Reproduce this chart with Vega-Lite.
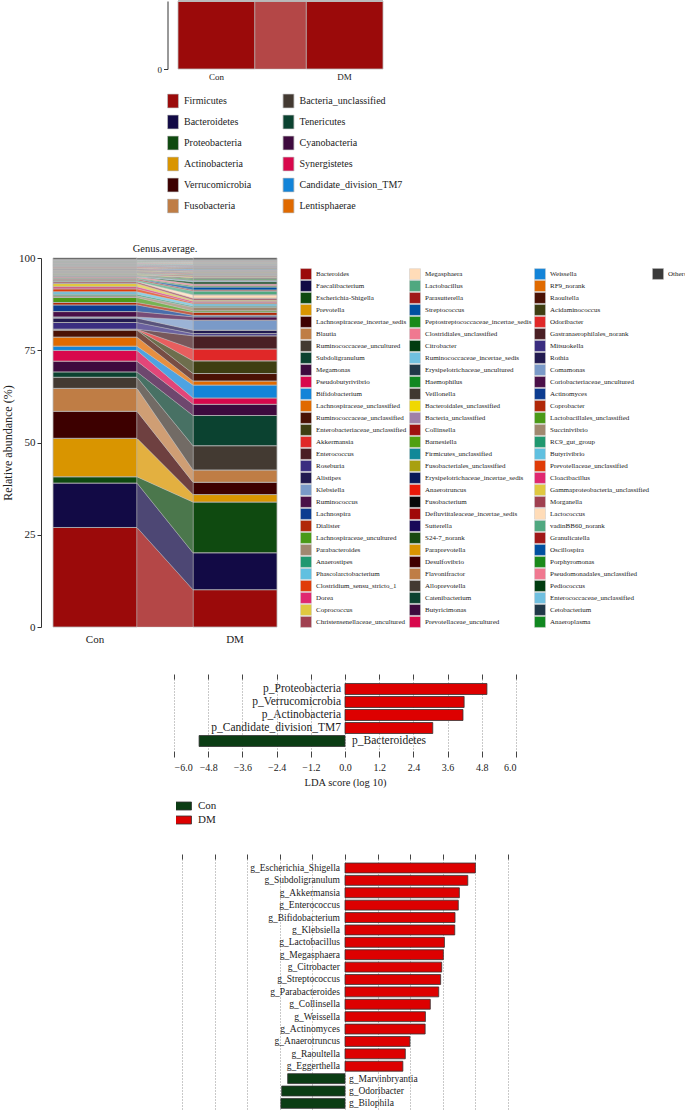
{
"$schema": "https://vega.github.io/schema/vega-lite/v6.json",
"padding": {"left": 1, "top": 0, "right": 0, "bottom": 0},
"bounds": "flush",
"spacing": 108,
"resolve": {"scale": {"color": "independent", "fill": "independent"}, "legend": {"color": "independent", "fill": "independent"}},
"config": {
  "view": {"stroke": null},
  "font": "Liberation Serif",
  "axis": {"labelFont": "Liberation Serif", "titleFont": "Liberation Serif", "labelColor": "#222", "titleColor": "#222", "domainColor": "#333", "tickColor": "#333", "titleFontWeight": "normal"},
  "legend": {"labelFont": "Liberation Serif", "labelColor": "#222", "padding": 0},
  "title": {"font": "Liberation Serif", "fontWeight": "normal", "color": "#222"}
},
"datasets": {
  "phylum": [
    {"phylum":"Firmicutes","group":"Con","pct":52},{"phylum":"Firmicutes","group":"DM","pct":52},
    {"phylum":"Bacteroidetes","group":"Con","pct":42},{"phylum":"Bacteroidetes","group":"DM","pct":18},
    {"phylum":"Proteobacteria","group":"Con","pct":3},{"phylum":"Proteobacteria","group":"DM","pct":22},
    {"phylum":"Actinobacteria","group":"Con","pct":1.8},{"phylum":"Actinobacteria","group":"DM","pct":4.5},
    {"phylum":"Verrucomicrobia","group":"Con","pct":0.2},{"phylum":"Verrucomicrobia","group":"DM","pct":3.2},
    {"phylum":"Fusobacteria","group":"Con","pct":0.3},{"phylum":"Fusobacteria","group":"DM","pct":0.3},
    {"phylum":"Bacteria_unclassified","group":"Con","pct":0.2},{"phylum":"Bacteria_unclassified","group":"DM","pct":0.2},
    {"phylum":"Tenericutes","group":"Con","pct":0.2},{"phylum":"Tenericutes","group":"DM","pct":0.1},
    {"phylum":"Cyanobacteria","group":"Con","pct":0.1},{"phylum":"Cyanobacteria","group":"DM","pct":0.1},
    {"phylum":"Synergistetes","group":"Con","pct":0.1},{"phylum":"Synergistetes","group":"DM","pct":0.1},
    {"phylum":"Candidate_division_TM7","group":"Con","pct":0.05},{"phylum":"Candidate_division_TM7","group":"DM","pct":0.1},
    {"phylum":"Lentisphaerae","group":"Con","pct":0.05},{"phylum":"Lentisphaerae","group":"DM","pct":0.05}
  ],
  "genus": [
    {"genus":"Bacteroides","group":"Con","pct":26.9},{"genus":"Bacteroides","group":"DM","pct":10.0},
    {"genus":"Faecalibacterium","group":"Con","pct":12.0},{"genus":"Faecalibacterium","group":"DM","pct":9.9},
    {"genus":"Escherichia-Shigella","group":"Con","pct":1.7},{"genus":"Escherichia-Shigella","group":"DM","pct":13.6},
    {"genus":"Prevotella","group":"Con","pct":10.4},{"genus":"Prevotella","group":"DM","pct":2.0},
    {"genus":"Lachnospiraceae_incertae_sedis","group":"Con","pct":7.3},{"genus":"Lachnospiraceae_incertae_sedis","group":"DM","pct":3.3},
    {"genus":"Blautia","group":"Con","pct":6.2},{"genus":"Blautia","group":"DM","pct":3.3},
    {"genus":"Ruminococcaceae_uncultured","group":"Con","pct":3.0},{"genus":"Ruminococcaceae_uncultured","group":"DM","pct":6.5},
    {"genus":"Subdoligranulum","group":"Con","pct":1.45},{"genus":"Subdoligranulum","group":"DM","pct":8.1},
    {"genus":"Megamonas","group":"Con","pct":2.9},{"genus":"Megamonas","group":"DM","pct":3.0},
    {"genus":"Pseudobutyrivibrio","group":"Con","pct":2.9},{"genus":"Pseudobutyrivibrio","group":"DM","pct":1.7},
    {"genus":"Bifidobacterium","group":"Con","pct":1.15},{"genus":"Bifidobacterium","group":"DM","pct":3.45},
    {"genus":"Lachnospiraceae_unclassified","group":"Con","pct":2.45},{"genus":"Lachnospiraceae_unclassified","group":"DM","pct":1.1},
    {"genus":"Ruminococcaceae_unclassified","group":"Con","pct":1.9},{"genus":"Ruminococcaceae_unclassified","group":"DM","pct":2.0},
    {"genus":"Enterobacteriaceae_unclassified","group":"Con","pct":0.1},{"genus":"Enterobacteriaceae_unclassified","group":"DM","pct":3.4},
    {"genus":"Akkermansia","group":"Con","pct":0.1},{"genus":"Akkermansia","group":"DM","pct":3.2},
    {"genus":"Enterococcus","group":"Con","pct":0.05},{"genus":"Enterococcus","group":"DM","pct":3.5},
    {"genus":"Roseburia","group":"Con","pct":1.8},{"genus":"Roseburia","group":"DM","pct":0.6},
    {"genus":"Alistipes","group":"Con","pct":1.2},{"genus":"Alistipes","group":"DM","pct":0.9},
    {"genus":"Klebsiella","group":"Con","pct":0.3},{"genus":"Klebsiella","group":"DM","pct":2.7},
    {"genus":"Ruminococcus","group":"Con","pct":1.45},{"genus":"Ruminococcus","group":"DM","pct":0.9},
    {"genus":"Lachnospira","group":"Con","pct":1.8},{"genus":"Lachnospira","group":"DM","pct":0.4},
    {"genus":"Dialister","group":"Con","pct":0.65},{"genus":"Dialister","group":"DM","pct":0.8},
    {"genus":"Lachnospiraceae_uncultured","group":"Con","pct":1.35},{"genus":"Lachnospiraceae_uncultured","group":"DM","pct":0.4},
    {"genus":"Parabacteroides","group":"Con","pct":0.45},{"genus":"Parabacteroides","group":"DM","pct":1.0},
    {"genus":"Anaerostipes","group":"Con","pct":0.45},{"genus":"Anaerostipes","group":"DM","pct":0.3},
    {"genus":"Phascolarctobacterium","group":"Con","pct":0.65},{"genus":"Phascolarctobacterium","group":"DM","pct":0.6},
    {"genus":"Clostridium_sensu_stricto_1","group":"Con","pct":0.8},{"genus":"Clostridium_sensu_stricto_1","group":"DM","pct":0.3},
    {"genus":"Dorea","group":"Con","pct":0.55},{"genus":"Dorea","group":"DM","pct":0.4},
    {"genus":"Coprococcus","group":"Con","pct":0.9},{"genus":"Coprococcus","group":"DM","pct":0.3},
    {"genus":"Christensenellaceae_uncultured","group":"Con","pct":0.45},{"genus":"Christensenellaceae_uncultured","group":"DM","pct":0.5},
    {"genus":"Megasphaera","group":"Con","pct":0.05},{"genus":"Megasphaera","group":"DM","pct":0.9},
    {"genus":"Lactobacillus","group":"Con","pct":0.4},{"genus":"Lactobacillus","group":"DM","pct":1.0},
    {"genus":"Parasutterella","group":"Con","pct":0.3},{"genus":"Parasutterella","group":"DM","pct":0.3},
    {"genus":"Streptococcus","group":"Con","pct":0.05},{"genus":"Streptococcus","group":"DM","pct":0.8},
    {"genus":"Peptostreptococcaceae_incertae_sedis","group":"Con","pct":0.2},{"genus":"Peptostreptococcaceae_incertae_sedis","group":"DM","pct":0.3},
    {"genus":"Clostridiales_unclassified","group":"Con","pct":0.35},{"genus":"Clostridiales_unclassified","group":"DM","pct":0.5},
    {"genus":"Citrobacter","group":"Con","pct":0.02},{"genus":"Citrobacter","group":"DM","pct":0.6},
    {"genus":"Ruminococcaceae_incertae_sedis","group":"Con","pct":0.15},{"genus":"Ruminococcaceae_incertae_sedis","group":"DM","pct":0.3},
    {"genus":"Erysipelotrichaceae_uncultured","group":"Con","pct":0.1},{"genus":"Erysipelotrichaceae_uncultured","group":"DM","pct":0.2},
    {"genus":"Haemophilus","group":"Con","pct":0.1},{"genus":"Haemophilus","group":"DM","pct":0.3},
    {"genus":"Veillonella","group":"Con","pct":0.1},{"genus":"Veillonella","group":"DM","pct":0.3},
    {"genus":"Bacteroidales_unclassified","group":"Con","pct":0.1},{"genus":"Bacteroidales_unclassified","group":"DM","pct":0.15},
    {"genus":"Bacteria_unclassified","group":"Con","pct":0.1},{"genus":"Bacteria_unclassified","group":"DM","pct":0.15},
    {"genus":"Collinsella","group":"Con","pct":0.05},{"genus":"Collinsella","group":"DM","pct":0.3},
    {"genus":"Barnesiella","group":"Con","pct":0.1},{"genus":"Barnesiella","group":"DM","pct":0.1},
    {"genus":"Firmicutes_unclassified","group":"Con","pct":0.1},{"genus":"Firmicutes_unclassified","group":"DM","pct":0.1},
    {"genus":"Fusobacteriales_unclassified","group":"Con","pct":0.1},{"genus":"Fusobacteriales_unclassified","group":"DM","pct":0.08},
    {"genus":"Erysipelotrichaceae_incertae_sedis","group":"Con","pct":0.1},{"genus":"Erysipelotrichaceae_incertae_sedis","group":"DM","pct":0.08},
    {"genus":"Anaerotruncus","group":"Con","pct":0.05},{"genus":"Anaerotruncus","group":"DM","pct":0.2},
    {"genus":"Fusobacterium","group":"Con","pct":0.1},{"genus":"Fusobacterium","group":"DM","pct":0.08},
    {"genus":"Defluviitaleaceae_incertae_sedis","group":"Con","pct":0.1},{"genus":"Defluviitaleaceae_incertae_sedis","group":"DM","pct":0.08},
    {"genus":"Sutterella","group":"Con","pct":0.1},{"genus":"Sutterella","group":"DM","pct":0.08},
    {"genus":"S24-7_norank","group":"Con","pct":0.1},{"genus":"S24-7_norank","group":"DM","pct":0.08},
    {"genus":"Paraprevotella","group":"Con","pct":0.1},{"genus":"Paraprevotella","group":"DM","pct":0.08},
    {"genus":"Desulfovibrio","group":"Con","pct":0.1},{"genus":"Desulfovibrio","group":"DM","pct":0.08},
    {"genus":"Flavonifractor","group":"Con","pct":0.1},{"genus":"Flavonifractor","group":"DM","pct":0.08},
    {"genus":"Alloprevotella","group":"Con","pct":0.1},{"genus":"Alloprevotella","group":"DM","pct":0.08},
    {"genus":"Catenibacterium","group":"Con","pct":0.1},{"genus":"Catenibacterium","group":"DM","pct":0.08},
    {"genus":"Butyricimonas","group":"Con","pct":0.1},{"genus":"Butyricimonas","group":"DM","pct":0.08},
    {"genus":"Prevotellaceae_uncultured","group":"Con","pct":0.1},{"genus":"Prevotellaceae_uncultured","group":"DM","pct":0.08},
    {"genus":"Weissella","group":"Con","pct":0.05},{"genus":"Weissella","group":"DM","pct":0.25},
    {"genus":"RF9_norank","group":"Con","pct":0.1},{"genus":"RF9_norank","group":"DM","pct":0.1},
    {"genus":"Raoultella","group":"Con","pct":0.02},{"genus":"Raoultella","group":"DM","pct":0.15},
    {"genus":"Acidaminococcus","group":"Con","pct":0.1},{"genus":"Acidaminococcus","group":"DM","pct":0.1},
    {"genus":"Odoribacter","group":"Con","pct":0.15},{"genus":"Odoribacter","group":"DM","pct":0.05},
    {"genus":"Gastranaerophilales_norank","group":"Con","pct":0.1},{"genus":"Gastranaerophilales_norank","group":"DM","pct":0.1},
    {"genus":"Mitsuokella","group":"Con","pct":0.1},{"genus":"Mitsuokella","group":"DM","pct":0.1},
    {"genus":"Rothia","group":"Con","pct":0.08},{"genus":"Rothia","group":"DM","pct":0.1},
    {"genus":"Comamonas","group":"Con","pct":0.08},{"genus":"Comamonas","group":"DM","pct":0.08},
    {"genus":"Coriobacteriaceae_uncultured","group":"Con","pct":0.08},{"genus":"Coriobacteriaceae_uncultured","group":"DM","pct":0.08},
    {"genus":"Actinomyces","group":"Con","pct":0.03},{"genus":"Actinomyces","group":"DM","pct":0.15},
    {"genus":"Coprobacter","group":"Con","pct":0.08},{"genus":"Coprobacter","group":"DM","pct":0.08},
    {"genus":"Lactobacillales_unclassified","group":"Con","pct":0.08},{"genus":"Lactobacillales_unclassified","group":"DM","pct":0.08},
    {"genus":"Succinivibrio","group":"Con","pct":0.08},{"genus":"Succinivibrio","group":"DM","pct":0.08},
    {"genus":"RC9_gut_group","group":"Con","pct":0.08},{"genus":"RC9_gut_group","group":"DM","pct":0.08},
    {"genus":"Butyrivibrio","group":"Con","pct":0.08},{"genus":"Butyrivibrio","group":"DM","pct":0.08},
    {"genus":"Prevotellaceae_unclassified","group":"Con","pct":0.08},{"genus":"Prevotellaceae_unclassified","group":"DM","pct":0.08},
    {"genus":"Cloacibacillus","group":"Con","pct":0.08},{"genus":"Cloacibacillus","group":"DM","pct":0.08},
    {"genus":"Gammaproteobacteria_unclassified","group":"Con","pct":0.08},{"genus":"Gammaproteobacteria_unclassified","group":"DM","pct":0.08},
    {"genus":"Morganella","group":"Con","pct":0.08},{"genus":"Morganella","group":"DM","pct":0.08},
    {"genus":"Lactococcus","group":"Con","pct":0.08},{"genus":"Lactococcus","group":"DM","pct":0.08},
    {"genus":"vadinBB60_norank","group":"Con","pct":0.08},{"genus":"vadinBB60_norank","group":"DM","pct":0.08},
    {"genus":"Granulicatella","group":"Con","pct":0.08},{"genus":"Granulicatella","group":"DM","pct":0.08},
    {"genus":"Oscillospira","group":"Con","pct":0.08},{"genus":"Oscillospira","group":"DM","pct":0.08},
    {"genus":"Porphyromonas","group":"Con","pct":0.08},{"genus":"Porphyromonas","group":"DM","pct":0.08},
    {"genus":"Pseudomonadales_unclassified","group":"Con","pct":0.08},{"genus":"Pseudomonadales_unclassified","group":"DM","pct":0.08},
    {"genus":"Pediococcus","group":"Con","pct":0.08},{"genus":"Pediococcus","group":"DM","pct":0.08},
    {"genus":"Enterococcaceae_unclassified","group":"Con","pct":0.08},{"genus":"Enterococcaceae_unclassified","group":"DM","pct":0.08},
    {"genus":"Cetobacterium","group":"Con","pct":0.08},{"genus":"Cetobacterium","group":"DM","pct":0.08},
    {"genus":"Anaeroplasma","group":"Con","pct":0.08},{"genus":"Anaeroplasma","group":"DM","pct":0.08},
    {"genus":"Others","group":"Con","pct":0.4},{"genus":"Others","group":"DM","pct":0.45}
  ],
  "ldaP": [
    {"taxon":"p_Proteobacteria","class":"DM","lda":4.98},
    {"taxon":"p_Verrucomicrobia","class":"DM","lda":4.18},
    {"taxon":"p_Actinobacteria","class":"DM","lda":4.14},
    {"taxon":"p_Candidate_division_TM7","class":"DM","lda":3.08},
    {"taxon":"p_Bacteroidetes","class":"Con","lda":-5.12}
  ],
  "ldaG": [
    {"taxon":"g_Escherichia_Shigella","class":"DM","lda":4.80},
    {"taxon":"g_Subdoligranulum","class":"DM","lda":4.52},
    {"taxon":"g_Akkermansia","class":"DM","lda":4.21},
    {"taxon":"g_Enterococcus","class":"DM","lda":4.17},
    {"taxon":"g_Bifidobacterium","class":"DM","lda":4.05},
    {"taxon":"g_Klebsiella","class":"DM","lda":4.04},
    {"taxon":"g_Lactobacillus","class":"DM","lda":3.66},
    {"taxon":"g_Megasphaera","class":"DM","lda":3.62},
    {"taxon":"g_Citrobacter","class":"DM","lda":3.56},
    {"taxon":"g_Streptococcus","class":"DM","lda":3.52},
    {"taxon":"g_Parabacteroides","class":"DM","lda":3.45},
    {"taxon":"g_Collinsella","class":"DM","lda":3.14},
    {"taxon":"g_Weissella","class":"DM","lda":2.96},
    {"taxon":"g_Actinomyces","class":"DM","lda":2.95},
    {"taxon":"g_Anaerotruncus","class":"DM","lda":2.39},
    {"taxon":"g_Raoultella","class":"DM","lda":2.22},
    {"taxon":"g_Eggerthella","class":"DM","lda":2.13},
    {"taxon":"g_Marvinbryantia","class":"Con","lda":-2.11},
    {"taxon":"g_Odoribacter","class":"Con","lda":-2.33},
    {"taxon":"g_Bilophila","class":"Con","lda":-2.36}
  ]
},
"vconcat": [
  {
    "width": 360, "height": 68,
    "data": {"name": "phylum"},
    "transform": [{"window": [{"op": "row_number", "as": "rank"}], "groupby": ["group"]}],
    "layer": [
      {
        "mark": {"type": "bar", "stroke": "#bbbbbb", "strokeWidth": 0.8},
        "encoding": {
          "x": {"field": "group", "type": "nominal", "scale": {"type": "band", "range": [137, 342], "paddingInner": 0.4, "paddingOuter": 0},
                "axis": {"title": null, "domain": false, "ticks": false, "labelAngle": 0, "labelFontSize": 9, "labelPadding": 3}},
          "y": {"field": "pct", "type": "quantitative", "stack": "normalize", "scale": {"domain": [0, 0.2], "clamp": true, "nice": false},
                "axis": {"values": [0], "labelExpr": "format(datum.value*100, 'd')", "title": null, "offset": -126.5, "tickSize": 4, "labelFontSize": 9, "labelPadding": 2, "grid": false}},
          "order": {"field": "rank", "type": "quantitative", "sort": "ascending"},
          "color": {"field": "phylum", "type": "nominal",
            "scale": {"domain": ["Firmicutes","Bacteroidetes","Proteobacteria","Actinobacteria","Verrucomicrobia","Fusobacteria","Bacteria_unclassified","Tenericutes","Cyanobacteria","Synergistetes","Candidate_division_TM7","Lentisphaerae"],
                      "range": ["#9b0a0a","#120a45","#0f4a10","#d99500","#3d0000","#bf7d45","#433a32","#0b4230","#3e0a3e","#d8084c","#1384d8","#e06a00"]},
            "legend": {"title": null, "orient": "none", "legendX": 124.5, "legendY": 92.5, "columns": 2, "columnPadding": 29.5, "rowPadding": 6, "clipHeight": 15,
                       "symbolType": "M-0.78,-1H0.78V1H-0.78Z", "symbolSize": 196, "symbolStrokeColor": "#cccccc", "symbolStrokeWidth": 0.8, "symbolOpacity": 1,
                       "labelFontSize": 10, "labelOffset": 3.5,
                       "values": ["Firmicutes","Bacteroidetes","Proteobacteria","Actinobacteria","Verrucomicrobia","Fusobacteria","Bacteria_unclassified","Tenericutes","Cyanobacteria","Synergistetes","Candidate_division_TM7","Lentisphaerae"]}}
        }
      },
      {
        "mark": {"type": "area", "fillOpacity": 0.75, "stroke": "#bbbbbb", "strokeWidth": 0.5},
        "encoding": {
          "x": {"field": "group", "type": "nominal", "scale": {"type": "point", "range": [214, 265], "padding": 0}, "axis": null},
          "y": {"field": "pct", "type": "quantitative", "stack": "normalize"},
          "order": {"field": "rank", "type": "quantitative", "sort": "ascending"},
          "color": {"field": "phylum", "type": "nominal"}
        }
      }
    ],
    "resolve": {"scale": {"x": "independent"}}
  },
  {
    "width": 248, "height": 394,
    "title": {"text": "Genus.average.", "fontSize": 10.5, "offset": -77, "anchor": "middle", "frame": "group"},
    "data": {"name": "genus"},
    "transform": [{"window": [{"op": "row_number", "as": "rank"}], "groupby": ["group"]}],
    "layer": [
      {
        "mark": {"type": "bar", "stroke": "#b8b8b8", "strokeWidth": 0.8},
        "encoding": {
          "x": {"field": "group", "type": "nominal", "scale": {"type": "band", "range": [12, 236], "paddingInner": 0.4, "paddingOuter": 0},
                "axis": {"title": null, "domain": false, "ticks": false, "labelAngle": 0, "labelFontSize": 11, "labelPadding": 6, "offset": 56}},
          "y": {"field": "pct", "type": "quantitative", "stack": "normalize", "scale": {"domain": [0, 1], "range": [450, 81], "nice": false},
                "axis": {"values": [0, 0.25, 0.5, 0.75, 1], "labelExpr": "format(datum.value*100, 'd')", "title": "Relative abundance (%)", "titleFontSize": 12, "titlePadding": 4, "tickSize": 4, "labelFontSize": 11, "labelPadding": 2, "grid": false}},
          "order": {"field": "rank", "type": "quantitative", "sort": "ascending"},
          "color": {"field": "genus", "type": "nominal",
            "scale": {
              "domain": ["Bacteroides","Faecalibacterium","Escherichia-Shigella","Prevotella","Lachnospiraceae_incertae_sedis","Blautia","Ruminococcaceae_uncultured","Subdoligranulum","Megamonas","Pseudobutyrivibrio","Bifidobacterium","Lachnospiraceae_unclassified","Ruminococcaceae_unclassified","Enterobacteriaceae_unclassified","Akkermansia","Enterococcus","Roseburia","Alistipes","Klebsiella","Ruminococcus","Lachnospira","Dialister","Lachnospiraceae_uncultured","Parabacteroides","Anaerostipes","Phascolarctobacterium","Clostridium_sensu_stricto_1","Dorea","Coprococcus","Christensenellaceae_uncultured","Megasphaera","Lactobacillus","Parasutterella","Streptococcus","Peptostreptococcaceae_incertae_sedis","Clostridiales_unclassified","Citrobacter","Ruminococcaceae_incertae_sedis","Erysipelotrichaceae_uncultured","Haemophilus","Veillonella","Bacteroidales_unclassified","Bacteria_unclassified","Collinsella","Barnesiella","Firmicutes_unclassified","Fusobacteriales_unclassified","Erysipelotrichaceae_incertae_sedis","Anaerotruncus","Fusobacterium","Defluviitaleaceae_incertae_sedis","Sutterella","S24-7_norank","Paraprevotella","Desulfovibrio","Flavonifractor","Alloprevotella","Catenibacterium","Butyricimonas","Prevotellaceae_uncultured","Weissella","RF9_norank","Raoultella","Acidaminococcus","Odoribacter","Gastranaerophilales_norank","Mitsuokella","Rothia","Comamonas","Coriobacteriaceae_uncultured","Actinomyces","Coprobacter","Lactobacillales_unclassified","Succinivibrio","RC9_gut_group","Butyrivibrio","Prevotellaceae_unclassified","Cloacibacillus","Gammaproteobacteria_unclassified","Morganella","Lactococcus","vadinBB60_norank","Granulicatella","Oscillospira","Porphyromonas","Pseudomonadales_unclassified","Pediococcus","Enterococcaceae_unclassified","Cetobacterium","Anaeroplasma","Others"],
              "range": ["#9b0a0a","#120a45","#0f4a10","#d99500","#3d0000","#bf7d45","#433a32","#0b4230","#3e0a3e","#d8084c","#1384d8","#e06a00","#4a1205","#3e3e12","#e02828","#4a1f24","#3a2d80","#221a50","#7a9ac8","#4a1048","#0c3c90","#b02808","#4a9a18","#a08870","#209870","#60c0e0","#e03c08","#e02870","#e0c840","#a04050",
                        "#ffdcb8","#50a880","#a01818","#0050a0","#1a8a1a","#f07890","#003c10","#70c0e0","#203848","#108820","#403830","#f0d800","#a080a8","#a01010","#50a010","#108898","#a8a010","#081858","#e81808","#080808","#a00808","#180858","#184a10","#d99500","#400000","#bf7d45","#433a32","#0b4230","#3e0a3e","#d8084c",
                        "#1384d8","#e06a00","#4a1205","#3e3e12","#e02828","#4a1f24","#3a2d80","#221a50","#7a9ac8","#4a1048","#0c3c90","#b02808","#4a9a18","#a08870","#209870","#60c0e0","#e03c08","#e02870","#e0c840","#a04050","#ffdcb8","#50a880","#a01818","#0050a0","#1a8a1a","#f07890","#003c10","#70c0e0","#203848","#108820","#3a3a3a"]},
            "legend": {"title": null, "orient": "none", "legendX": 259, "legendY": 91.1, "columns": 3, "columnPadding": 2, "rowPadding": 0, "clipHeight": 11.63, "symbolLimit": 0,
                       "symbolType": "square", "symbolSize": 121, "symbolStrokeColor": "#bbbbbb", "symbolStrokeWidth": 0.5, "symbolOpacity": 1,
                       "labelFontSize": 7, "labelOffset": 4, "labelLimit": 200,
                       "values": ["Bacteroides","Faecalibacterium","Escherichia-Shigella","Prevotella","Lachnospiraceae_incertae_sedis","Blautia","Ruminococcaceae_uncultured","Subdoligranulum","Megamonas","Pseudobutyrivibrio","Bifidobacterium","Lachnospiraceae_unclassified","Ruminococcaceae_unclassified","Enterobacteriaceae_unclassified","Akkermansia","Enterococcus","Roseburia","Alistipes","Klebsiella","Ruminococcus","Lachnospira","Dialister","Lachnospiraceae_uncultured","Parabacteroides","Anaerostipes","Phascolarctobacterium","Clostridium_sensu_stricto_1","Dorea","Coprococcus","Christensenellaceae_uncultured","Megasphaera","Lactobacillus","Parasutterella","Streptococcus","Peptostreptococcaceae_incertae_sedis","Clostridiales_unclassified","Citrobacter","Ruminococcaceae_incertae_sedis","Erysipelotrichaceae_uncultured","Haemophilus","Veillonella","Bacteroidales_unclassified","Bacteria_unclassified","Collinsella","Barnesiella","Firmicutes_unclassified","Fusobacteriales_unclassified","Erysipelotrichaceae_incertae_sedis","Anaerotruncus","Fusobacterium","Defluviitaleaceae_incertae_sedis","Sutterella","S24-7_norank","Paraprevotella","Desulfovibrio","Flavonifractor","Alloprevotella","Catenibacterium","Butyricimonas","Prevotellaceae_uncultured","Weissella","RF9_norank","Raoultella","Acidaminococcus","Odoribacter","Gastranaerophilales_norank","Mitsuokella","Rothia","Comamonas","Coriobacteriaceae_uncultured","Actinomyces","Coprobacter","Lactobacillales_unclassified","Succinivibrio","RC9_gut_group","Butyrivibrio","Prevotellaceae_unclassified","Cloacibacillus","Gammaproteobacteria_unclassified","Morganella","Lactococcus","vadinBB60_norank","Granulicatella","Oscillospira","Porphyromonas","Pseudomonadales_unclassified","Pediococcus","Enterococcaceae_unclassified","Cetobacterium","Anaeroplasma"]}}
        }
      },
      {
        "mark": {"type": "area", "fillOpacity": 0.75, "stroke": "#c8c8c8", "strokeWidth": 0.4},
        "encoding": {
          "x": {"field": "group", "type": "nominal", "scale": {"type": "point", "range": [96, 152], "padding": 0}, "axis": null},
          "y": {"field": "pct", "type": "quantitative", "stack": "normalize"},
          "order": {"field": "rank", "type": "quantitative", "sort": "ascending"},
          "color": {"field": "genus", "type": "nominal"}
        }
      },
      {
        "transform": [{"filter": "datum.genus === 'Others'"}],
        "mark": {"type": "bar", "opacity": 0},
        "encoding": {
          "fill": {"field": "genus", "type": "nominal", "scale": {"domain": ["Others"], "range": ["#3a3a3a"]},
            "legend": {"title": null, "orient": "none", "legendX": 611, "legendY": 91.1, "clipHeight": 11.63, "symbolType": "square", "symbolSize": 121, "symbolStrokeColor": "#bbbbbb", "symbolStrokeWidth": 0.5, "symbolOpacity": 1, "labelFontSize": 7, "labelOffset": 4}}
        }
      }
    ],
    "resolve": {"scale": {"x": "independent"}}
  },
  {
    "width": 480, "height": 72,
    "data": {"name": "ldaP"},
    "layer": [
      {
        "mark": {"type": "bar", "stroke": "#333333", "strokeWidth": 0.8},
        "encoding": {
          "y": {"field": "taxon", "type": "nominal", "scale": {"domain": ["p_Proteobacteria","p_Verrucomicrobia","p_Actinobacteria","p_Candidate_division_TM7","p_Bacteroidetes"], "paddingInner": 0.154, "paddingOuter": 0.346}, "axis": null},
          "x": {"field": "lda", "type": "quantitative", "scale": {"domain": [-6, 6], "range": [133, 475], "nice": false, "zero": false},
                "axis": {"orient": "top", "values": [-6, -4.8, -3.6, -2.4, -1.2, 0, 1.2, 2.4, 3.6, 4.8, 6], "labels": false, "domain": false, "grid": true, "gridDash": [1, 2], "gridColor": "#777777", "gridWidth": 0.8, "tickSize": 5, "tickColor": "#444444", "title": null}},
          "color": {"field": "class", "type": "nominal", "scale": {"domain": ["Con", "DM"], "range": ["#0b3d14", "#dd0000"]},
            "legend": {"title": null, "orient": "none", "legendX": 135, "legendY": 121.5, "clipHeight": 11, "rowPadding": 2, "symbolType": "M-2.5,-1H2.5V1H-2.5Z", "symbolSize": 64, "symbolStrokeColor": "#333333", "symbolStrokeWidth": 0.8, "symbolOpacity": 1, "labelFontSize": 11, "labelOffset": 11}}
        }
      },
      {
        "transform": [{"filter": "datum['class'] === 'DM'"}],
        "mark": {"type": "text", "align": "right", "baseline": "middle", "dx": -4, "fontSize": 11.5, "color": "#222222"},
        "encoding": {
          "y": {"field": "taxon", "type": "nominal", "axis": null},
          "x": {"datum": 0, "axis": {"orient": "bottom", "values": [-6, -4.8, -3.6, -2.4, -1.2, 0, 1.2, 2.4, 3.6, 4.8, 6], "format": ".1f", "grid": false, "domain": false, "tickSize": 6, "tickColor": "#444444", "labelFontSize": 10, "labelPadding": 5, "title": "LDA score (log 10)", "titleFontSize": 10.5, "titlePadding": 5}},
          "text": {"field": "taxon"}
        }
      },
      {
        "transform": [{"filter": "datum['class'] === 'Con'"}],
        "mark": {"type": "text", "align": "left", "baseline": "middle", "dx": 7, "fontSize": 11.5, "color": "#222222"},
        "encoding": {
          "y": {"field": "taxon", "type": "nominal", "axis": null},
          "x": {"datum": 0, "axis": null},
          "text": {"field": "taxon"}
        }
      }
    ],
    "resolve": {"axis": {"x": "independent"}}
  },
  {
    "width": 480, "height": 251,
    "data": {"name": "ldaG"},
    "layer": [
      {
        "mark": {"type": "bar", "stroke": "#333333", "strokeWidth": 0.8},
        "encoding": {
          "y": {"field": "taxon", "type": "nominal", "scale": {"domain": ["g_Escherichia_Shigella","g_Subdoligranulum","g_Akkermansia","g_Enterococcus","g_Bifidobacterium","g_Klebsiella","g_Lactobacillus","g_Megasphaera","g_Citrobacter","g_Streptococcus","g_Parabacteroides","g_Collinsella","g_Weissella","g_Actinomyces","g_Anaerotruncus","g_Raoultella","g_Eggerthella","g_Marvinbryantia","g_Odoribacter","g_Bilophila"], "paddingInner": 0.2, "paddingOuter": 0.229, "align": 0.71}, "axis": null},
          "x": {"field": "lda", "type": "quantitative", "scale": {"domain": [-6, 6], "range": [141, 467], "nice": false, "zero": false},
                "axis": {"orient": "top", "values": [-6, -4.8, -3.6, -2.4, -1.2, 0, 1.2, 2.4, 3.6, 4.8, 6], "labels": false, "domain": false, "grid": true, "gridDash": [1, 2], "gridColor": "#777777", "gridWidth": 0.8, "tickSize": 5, "tickColor": "#444444", "title": null}},
          "color": {"field": "class", "type": "nominal", "scale": {"domain": ["Con", "DM"], "range": ["#0b3d14", "#dd0000"]}, "legend": null}
        }
      },
      {
        "transform": [{"filter": "datum['class'] === 'DM'"}],
        "mark": {"type": "text", "align": "right", "baseline": "middle", "dx": -5, "fontSize": 9.5, "color": "#222222"},
        "encoding": {
          "y": {"field": "taxon", "type": "nominal", "axis": null},
          "x": {"datum": 0, "axis": null},
          "text": {"field": "taxon"}
        }
      },
      {
        "transform": [{"filter": "datum['class'] === 'Con'"}],
        "mark": {"type": "text", "align": "left", "baseline": "middle", "dx": 4, "fontSize": 9.5, "color": "#222222"},
        "encoding": {
          "y": {"field": "taxon", "type": "nominal", "axis": null},
          "x": {"datum": 0, "axis": null},
          "text": {"field": "taxon"}
        }
      }
    ],
    "resolve": {"axis": {"x": "independent"}}
  }
]
}
